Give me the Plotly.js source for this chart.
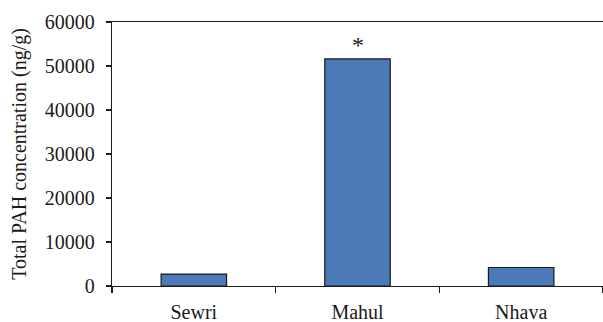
<!DOCTYPE html>
<html>
<head>
<meta charset="utf-8">
<script src="https://cdn.plot.ly/plotly-3.0.1.min.js"></script>
<style>html,body{margin:0;padding:0;background:#fff;}#chart{width:603px;height:322px;}</style>
</head>
<body>
<div id="chart"></div>
<script>
const categories = ["Sewri", "Mahul", "Nhava"];
const totalPAH = [2700, 51600, 4200];
const yTicks = [0, 10000, 20000, 30000, 40000, 50000, 60000];
const markerLabel = "*";
const markerCategory = "Mahul";
const markerValue = 54800;

const font = "'Liberation Serif', 'DejaVu Serif', serif";

Plotly.newPlot("chart", [{
  type: "bar",
  x: categories,
  y: totalPAH,
  width: 0.4,
  marker: {color: "#4a7bb7", line: {color: "#1a1a1a", width: 1.2}},
  hoverinfo: "skip"
}], {
  width: 603, height: 322,
  margin: {l: 112, r: 0, t: 22, b: 36},
  paper_bgcolor: "#fff", plot_bgcolor: "#fff",
  showlegend: false,
  font: {family: font, size: 20, color: "#1a1a1a"},
  xaxis: {
    type: "category",
    showline: true, linecolor: "#1a1a1a", linewidth: 1.2,
    mirror: true,
    ticks: "outside", tickson: "boundaries", ticklen: 6, tickcolor: "#1a1a1a", tickwidth: 1.2,
    ticklabelstandoff: 8,
    showgrid: false, zeroline: false,
    tickfont: {family: font, size: 20, color: "#1a1a1a"},
    fixedrange: true
  },
  yaxis: {
    range: [0, 60000],
    tickvals: yTicks,
    ticktext: yTicks.map(String),
    showline: true, linecolor: "#1a1a1a", linewidth: 1.2,
    ticks: "outside", ticklen: 5, tickcolor: "#1a1a1a", tickwidth: 1.2,
    ticklabelstandoff: 7,
    showgrid: false, zeroline: false,
    tickfont: {family: font, size: 20, color: "#1a1a1a"},
    title: {text: "Total PAH concentration (ng/g)", font: {family: font, size: 20, color: "#1a1a1a"}, standoff: 12},
    fixedrange: true
  },
  annotations: [{
    x: markerCategory, y: markerValue, xref: "x", yref: "y",
    text: markerLabel, showarrow: false,
    font: {family: font, size: 24, color: "#1a1a1a"}
  }]
}, {displayModeBar: false, staticPlot: true});
</script>
</body>
</html>
